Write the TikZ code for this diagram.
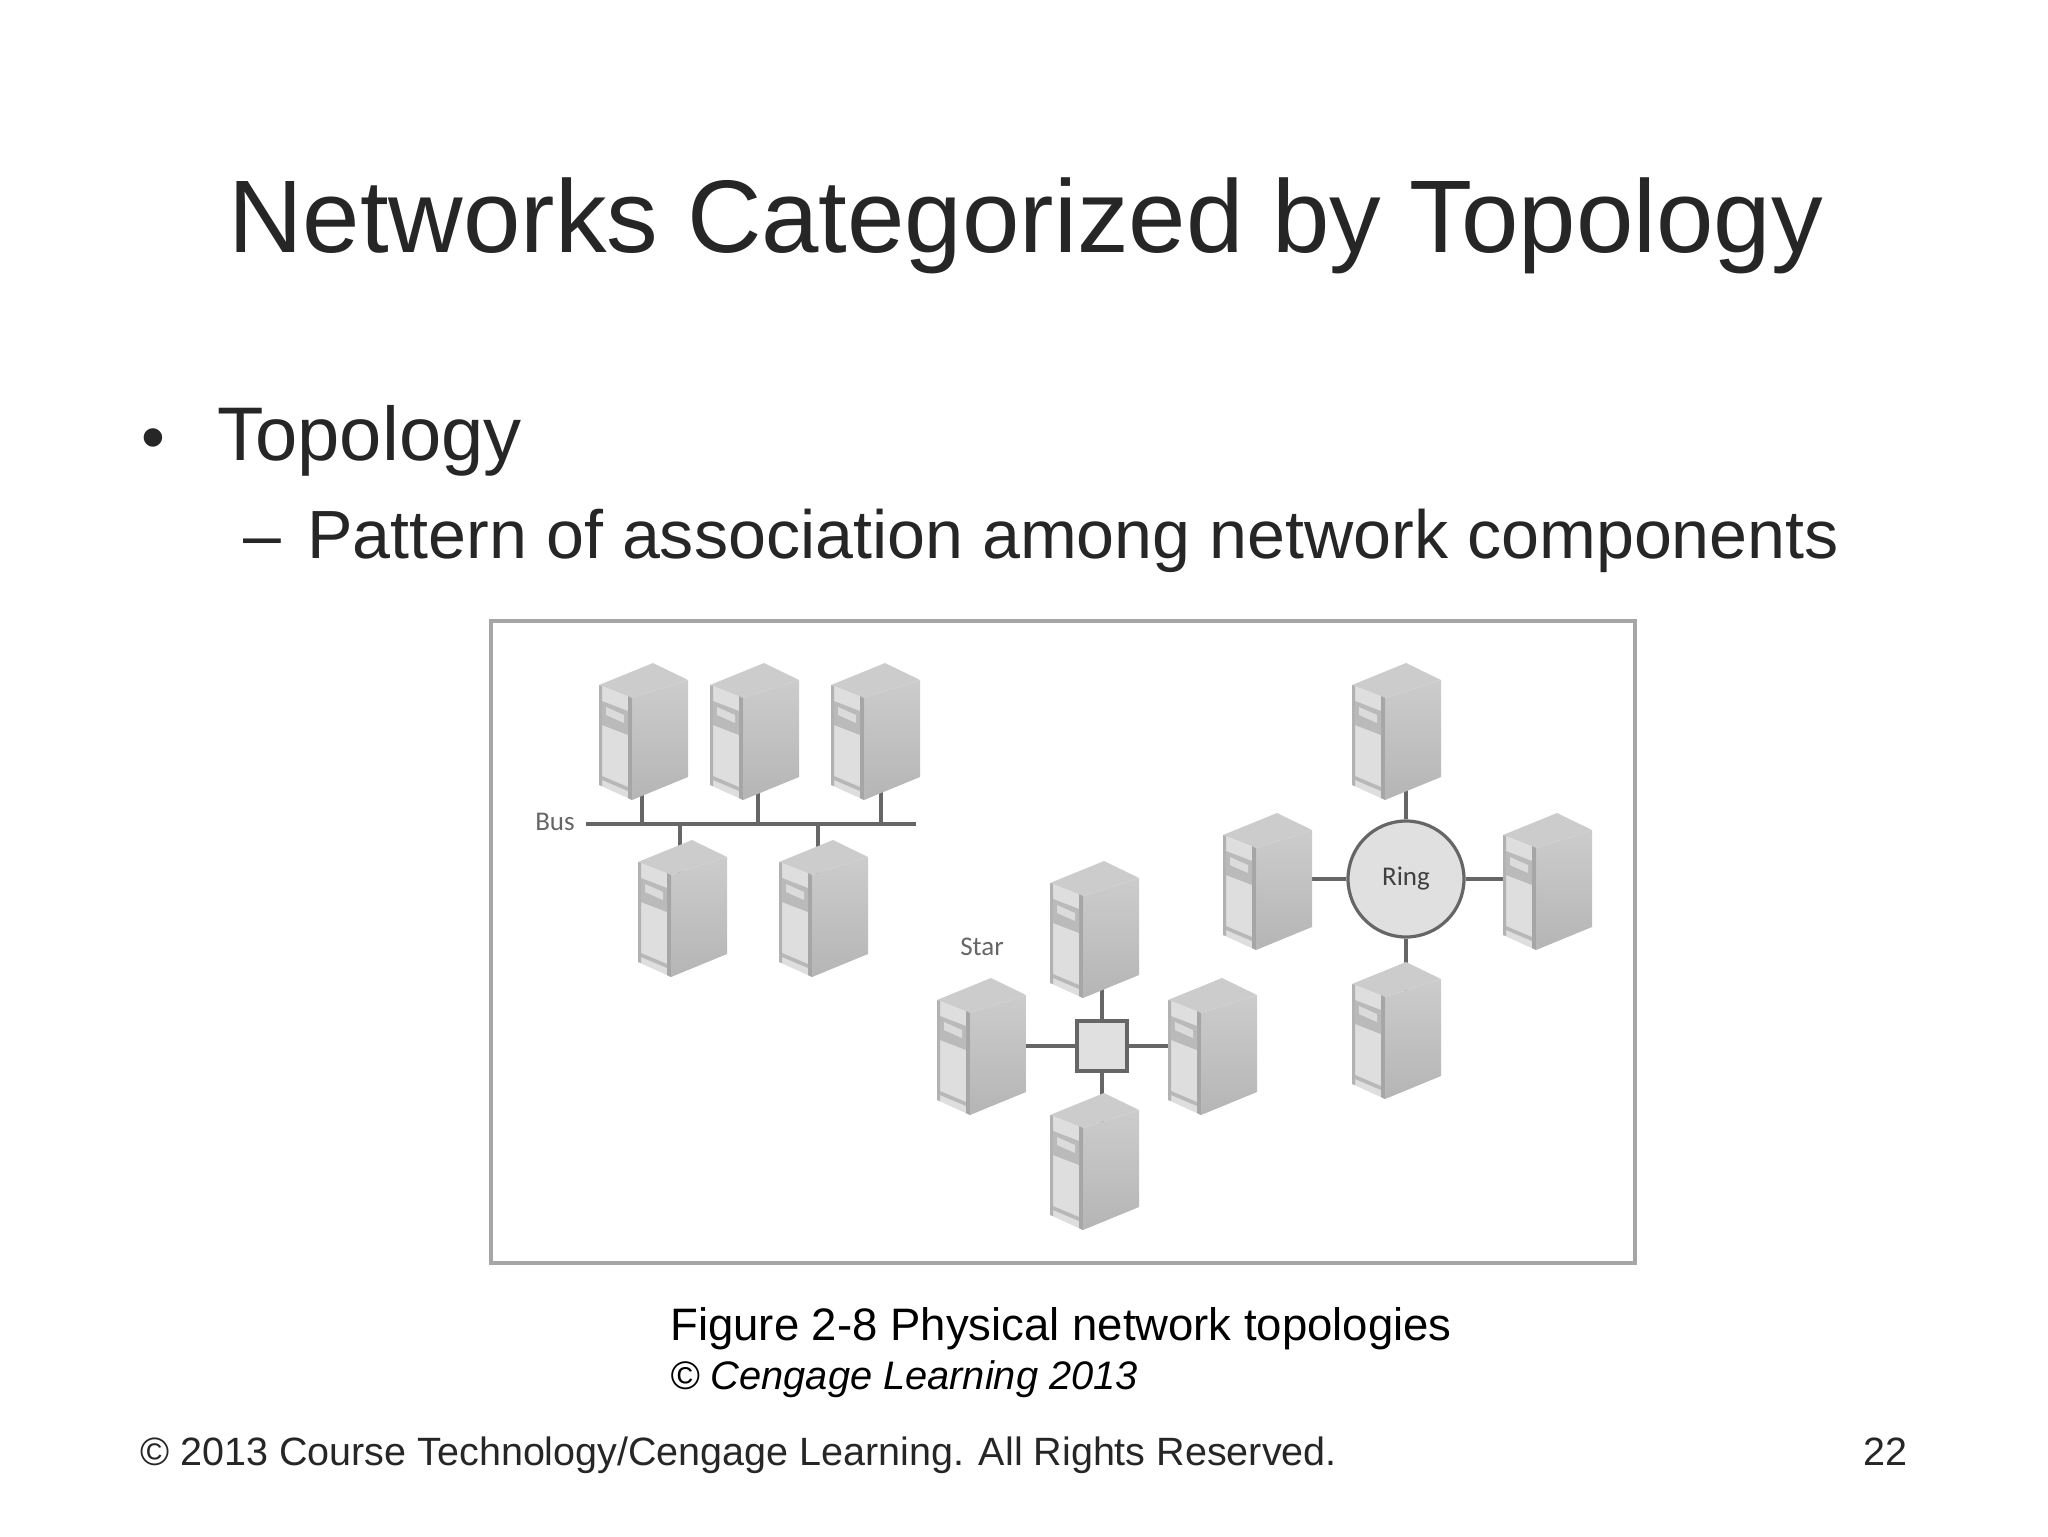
\documentclass[tikz,border=0pt]{standalone}
\usepackage{fontspec}
\setmainfont{Liberation Sans}
\newfontfamily\figfont{Carlito}
\usetikzlibrary{backgrounds}
\definecolor{inktext}{HTML}{262626}
\definecolor{wiregray}{HTML}{666666}
\tikzset{
  slidetext/.style={inner sep=0pt,anchor=base west,text=inktext},
  wire/.style={draw=wiregray,line width=1.8pt},
  figlabel/.style={inner sep=0pt,text=wiregray,font=\figfont\fontsize{13.5}{14}\selectfont},
  server/.pic={
    \node[inner sep=0pt,minimum width=44.5pt,minimum height=68.5pt] (-body) at (44.5,68.5) {};
    \fill[black!20] (0,22)--(54,0)--(89,17)--(33,35)--cycle;
    \shade[bottom color=black!29,top color=black!20] (33,35)--(89,17)--(89,114)--(33,137)--cycle;
    \fill[black!13] (0,22)--(33,35)--(33,137)--(0,122)--cycle;
    \fill[black!30] (0,22)--(3,23)--(3,123)--(0,122)--cycle;
    \fill[black!35] (29,33)--(33,35)--(33,137)--(29,135)--cycle;
    \fill[black!28] (3,113)--(29,124)--(29,128)--(3,117)--cycle;
    \fill[black!27] (3,38)--(29,48)--(29,72)--(3,62)--cycle;
    \fill[black!14] (7,44)--(25,52)--(25,60)--(7,52)--cycle;
  }
}
\begin{document}
\begin{tikzpicture}[x=0.5pt,y=-0.5pt]
\useasboundingbox (0,0) rectangle (2048,1536);

\node[slidetext,font=\fontsize{51.6}{54}\selectfont] (title) at (228,252) {Networks Categorized by Topology};
\node[slidetext,font=\fontsize{34}{36}\selectfont] (bullet) at (141,460) {•};
\node[slidetext,font=\fontsize{38}{40}\selectfont] (topic) at (217,460) {Topology};
\node[slidetext,font=\fontsize{34}{36}\selectfont] (dash) at (243,558) {–};
\node[slidetext,font=\fontsize{34.1}{36}\selectfont] (define) at (307,558) {Pattern of association among network components};
\node[slidetext,text=black,font=\fontsize{22.75}{25}\selectfont] (caption) at (670,1340) {Figure 2-8 Physical network topologies};
\node[slidetext,text=black,font=\itshape\fontsize{19.9}{21}\selectfont] (credit) at (670,1389) {© Cengage Learning 2013};
\node[slidetext,font=\fontsize{19.75}{21}\selectfont] (footer) at (140,1465) {© 2013 Course Technology/Cengage Learning. All Rights Reserved.};
\node[slidetext,anchor=base east,font=\fontsize{19.75}{21}\selectfont] (page) at (1908,1465) {22};

\node[draw=black!35,line width=2pt,inner sep=0pt,minimum width=572pt,minimum height=321pt] (frame) at (1062.5,941.5) {};

\pic (busa) at (599,663) {server};
\pic (busb) at (710,663) {server};
\pic (busc) at (831,663) {server};
\pic (busd) at (638,840) {server};
\pic (buse) at (779,840) {server};

\pic (startop) at (1050,861) {server};
\pic (starleft) at (937,978) {server};
\pic (starright) at (1168,978) {server};
\pic (starbottom) at (1050,1093) {server};

\pic (ringtop) at (1352,663) {server};
\pic (ringleft) at (1223,813) {server};
\pic (ringright) at (1503,813) {server};
\pic (ringbottom) at (1352,962) {server};

\node[figlabel] (buslabel) at (555,822) {Bus};
\node[figlabel] (starlabel) at (982,947) {Star};

\node[draw=wiregray,line width=2.2pt,fill=black!12,inner sep=0pt,minimum size=25pt] (hub) at (1102,1046) {};
\node[circle,draw=wiregray,line width=1.6pt,fill=black!12,inner sep=0pt,minimum size=58pt,text=black!75,font=\figfont\fontsize{13.5}{14}\selectfont] (ring) at (1406,879) {\raisebox{-1pt}{Ring}};

\coordinate (buswest) at (586,824);
\coordinate (buseast) at (916,824);
\coordinate (tapa) at (642,824);
\coordinate (tapb) at (758,824);
\coordinate (tapc) at (881,824);
\coordinate (tapd) at (680,824);
\coordinate (tape) at (818,824);

\begin{scope}[on background layer]
\draw[wire] (buswest)--(buseast);
\draw[wire] (tapa)--(tapa |- busa-body.center);
\draw[wire] (tapb)--(tapb |- busb-body.center);
\draw[wire] (tapc)--(tapc |- busc-body.center);
\draw[wire] (tapd)--(tapd |- busd-body.center);
\draw[wire] (tape)--(tape |- buse-body.center);
\draw[wire] (hub.north)--(hub.north |- startop-body.center);
\draw[wire] (hub.south)--(hub.south |- starbottom-body.center);
\draw[wire] (hub.west)--(hub.west -| starleft-body.center);
\draw[wire] (hub.east)--(hub.east -| starright-body.center);
\draw[wire] (ring.north)--(ring.north |- ringtop-body.center);
\draw[wire] (ring.south)--(ring.south |- ringbottom-body.center);
\draw[wire] (ring.west)--(ring.west -| ringleft-body.center);
\draw[wire] (ring.east)--(ring.east -| ringright-body.center);
\end{scope}
\end{tikzpicture}
\end{document}
